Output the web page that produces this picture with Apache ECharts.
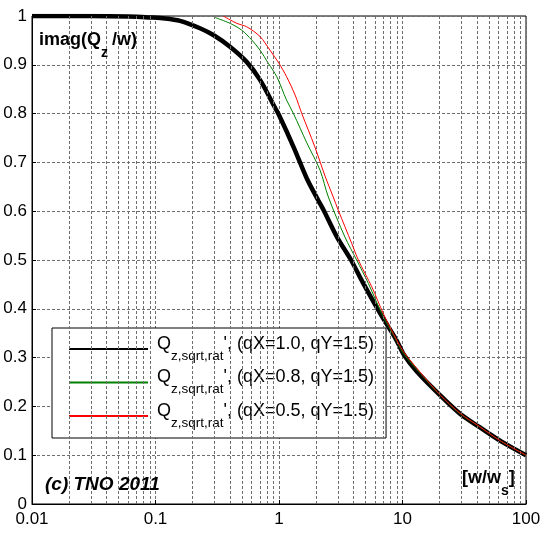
<!DOCTYPE html>
<html>
<head>
<meta charset="utf-8">
<script src="https://cdn.jsdelivr.net/npm/echarts@6/dist/echarts.min.js"></script>
<style>
html,body{margin:0;padding:0;background:#fff;}
#c{width:545px;height:534px;}
</style>
</head>
<body>
<div id="c"></div>
<script>
// ---- data ----
var xTickLabels = ['0.01', '0.1', '1', '10', '100'];
var yTickLabels = ['0', '0.1', '0.2', '0.3', '0.4', '0.5', '0.6', '0.7', '0.8', '0.9', '1'];
var minorGridX = [0.02,0.03,0.04,0.05,0.06,0.07,0.08,0.09,
                  0.2,0.3,0.4,0.5,0.6,0.7,0.8,0.9,
                  2,3,4,5,6,7,8,9,
                  20,30,40,50,60,70,80,90];

var seriesNames = [
  "Q_z,sqrt,rat', (qX=1.0, qY=1.5)",
  "Q_z,sqrt,rat', (qX=0.8, qY=1.5)",
  "Q_z,sqrt,rat', (qX=0.5, qY=1.5)"
];
var legendTails = ["', (qX=1.0, qY=1.5)", "', (qX=0.8, qY=1.5)", "', (qX=0.5, qY=1.5)"];

var blackX = [0.01, 0.03, 0.06, 0.09, 0.12, 0.158, 0.229, 0.294, 0.401, 0.547, 0.702, 0.929, 1.0, 1.31, 1.68, 2.07, 2.31, 2.95, 3.83, 4.79, 6.58, 8.97, 10.2, 13.0, 20.1, 29.2, 42.4, 61.5, 100];
var blackY = [1.0, 1.0, 0.999, 0.997, 0.995, 0.990, 0.975, 0.961, 0.937, 0.906, 0.869, 0.812, 0.797, 0.732, 0.667, 0.623, 0.601, 0.547, 0.500, 0.453, 0.391, 0.335, 0.307, 0.272, 0.223, 0.185, 0.157, 0.130, 0.100];

var greenX = [0.303, 0.401, 0.499, 0.601, 0.702, 0.82, 0.958, 1.15, 1.31, 1.68, 2.15, 2.51, 3.42, 4.25, 5.29, 7.0, 8.5, 10.2, 13.9, 20.1, 29.2, 42.4, 61.5, 100];
var greenY = [0.997, 0.985, 0.971, 0.951, 0.930, 0.903, 0.876, 0.828, 0.800, 0.740, 0.684, 0.629, 0.547, 0.500, 0.452, 0.383, 0.345, 0.308, 0.268, 0.223, 0.185, 0.158, 0.130, 0.100];

var redX = [0.354, 0.455, 0.547, 0.702, 0.845, 1.0, 1.15, 1.35, 1.53, 1.95, 2.36, 2.75, 3.02, 3.88, 4.39, 5.64, 7.0, 8.43, 10.2, 13.9, 20.1, 29.2, 42.4, 61.5, 100];
var redY = [1.0, 0.985, 0.978, 0.958, 0.930, 0.903, 0.876, 0.838, 0.800, 0.732, 0.672, 0.629, 0.602, 0.534, 0.500, 0.445, 0.390, 0.349, 0.312, 0.270, 0.224, 0.186, 0.158, 0.130, 0.100];

function pairs(xs, ys) { return xs.map(function (x, i) { return [x, ys[i]]; }); }

var FONT = '"Liberation Sans", Arial, sans-serif';
var gridStyle = { color: '#6e6e6e', width: 1, type: [3, 2] };

var chart = echarts.init(document.getElementById('c'), null, { renderer: 'canvas' });

var legendRich = {
  sp: { width: 4, fontSize: 18, fontFamily: FONT, color: '#000', lineHeight: 22, verticalAlign: 'top' },
  a: { fontSize: 18, fontFamily: FONT, color: '#000', lineHeight: 22, verticalAlign: 'top' },
  b: { fontSize: 13.5, fontFamily: FONT, color: '#000', lineHeight: 28, verticalAlign: 'bottom' }
};

var option = {
  animation: false,
  backgroundColor: '#fff',
  grid: { left: 32, top: 16, right: 19, bottom: 30, show: true, borderColor: '#000', borderWidth: 1, backgroundColor: '#fff' },
  xAxis: {
    type: 'log', logBase: 10, min: 0.01, max: 100,
    axisLine: { show: true, lineStyle: { color: '#000', width: 1 } },
    axisTick: { show: true, inside: true, length: 4, lineStyle: { color: '#000' } },
    axisLabel: {
      color: '#000', fontSize: 17, fontFamily: FONT, margin: 7,
      formatter: function (v) {
        var k = Math.round(Math.log10(v)) + 2;
        return xTickLabels[k] !== undefined ? xTickLabels[k] : '';
      }
    },
    splitLine: { show: true, lineStyle: gridStyle }
  },
  yAxis: {
    type: 'value', min: 0, max: 1, interval: 0.1,
    axisLine: { show: true, lineStyle: { color: '#000', width: 1 } },
    axisTick: { show: true, inside: true, length: 4, lineStyle: { color: '#000' } },
    axisLabel: {
      color: '#000', fontSize: 17, fontFamily: FONT, margin: 5,
      formatter: function (v) { return yTickLabels[Math.round(v * 10)]; }
    },
    splitLine: { show: true, lineStyle: gridStyle }
  },
  legend: {
    left: 52, top: 328,
    orient: 'vertical',
    itemWidth: 79, itemHeight: 14, itemGap: 5.5,
    padding: [7, 12, 8, 16],
    backgroundColor: '#fff',
    borderColor: '#000', borderWidth: 1, borderRadius: 0,
    selectedMode: false,
    itemStyle: { opacity: 0 },
    data: seriesNames,
    formatter: function (name) {
      var i = seriesNames.indexOf(name);
      return '{sp| }{a|Q}{b|z,sqrt,rat}{a|' + legendTails[i] + '}';
    },
    textStyle: { rich: legendRich, fontFamily: FONT, fontSize: 18, color: '#000' }
  },
  series: [
    {
      name: 'minorGrid', type: 'line', data: [], silent: true, z: 1,
      markLine: {
        silent: true, symbol: ['none', 'none'], animation: false,
        label: { show: false },
        lineStyle: gridStyle,
        emphasis: { disabled: true },
        data: minorGridX.map(function (v) { return { xAxis: v }; })
      }
    },
    {
      name: seriesNames[0], type: 'line', data: pairs(blackX, blackY),
      symbol: 'none', smooth: 0.3, z: 3,
      lineStyle: { color: '#000', width: 4.5 }, itemStyle: { color: '#000' }
    },
    {
      name: seriesNames[1], type: 'line', data: pairs(greenX, greenY),
      symbol: 'none', smooth: 0.3, z: 4,
      lineStyle: { color: '#008000', width: 1 }, itemStyle: { color: '#008000' }
    },
    {
      name: seriesNames[2], type: 'line', data: pairs(redX, redY),
      symbol: 'none', smooth: 0.3, z: 5,
      lineStyle: { color: '#ff0000', width: 1 }, itemStyle: { color: '#ff0000' }
    }
  ],
  graphic: [
    {
      type: 'text', left: 39, top: 31, z: 10,
      style: {
        text: '{t|imag(Q}{s|z }{t|/w)}',
        rich: {
          t: { fontSize: 18, fontWeight: 'bold', fontFamily: FONT, fill: '#000', lineHeight: 20, verticalAlign: 'top' },
          s: { fontSize: 14, fontWeight: 'bold', fontFamily: FONT, fill: '#000', lineHeight: 29, verticalAlign: 'bottom' }
        }
      }
    },
    {
      type: 'text', left: 45, top: 475, z: 10,
      style: { text: '(c) TNO 2011', font: 'italic bold 19px ' + FONT, fill: '#000' }
    },
    {
      type: 'text', left: 462, top: 469, z: 10,
      style: {
        text: '{t|[w/w}{s|s}{t|]}',
        rich: {
          t: { fontSize: 18, fontWeight: 'bold', fontFamily: FONT, fill: '#000', lineHeight: 20, verticalAlign: 'top' },
          s: { fontSize: 14, fontWeight: 'bold', fontFamily: FONT, fill: '#000', lineHeight: 29, verticalAlign: 'bottom' }
        }
      }
    }
  ]
};
chart.setOption(option);
</script>
</body>
</html>
